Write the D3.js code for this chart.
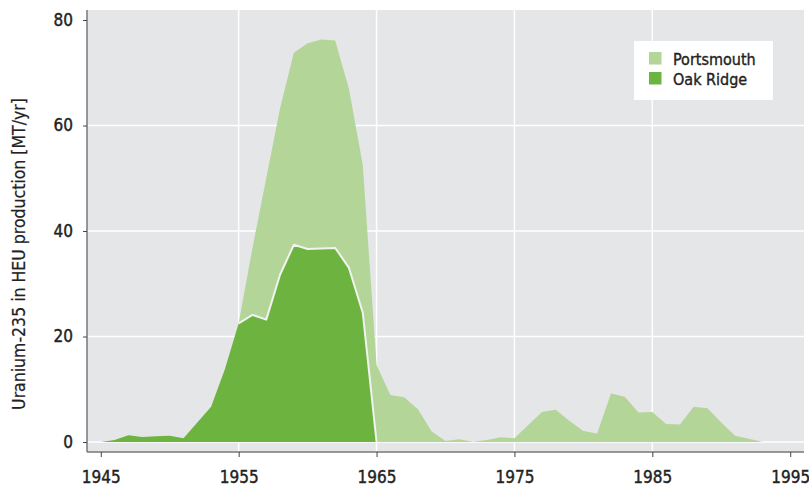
<!DOCTYPE html>
<html>
<head>
<meta charset="utf-8">
<script src="https://cdn.jsdelivr.net/npm/d3@7"></script>
<style>
  body { margin: 0; background: #fff; }
  svg text { font-family: "DejaVu Sans Condensed", "DejaVu Sans", sans-serif; font-stretch: condensed; fill: #222; }
</style>
</head>
<body>
<svg id="chart" width="809" height="489"></svg>
<script>

// values (MT/yr)
const years = [1945, 1946, 1947, 1948, 1949, 1950, 1951, 1952, 1953, 1954,
  1955, 1956, 1957, 1958, 1959, 1960, 1961, 1962, 1963, 1964,
  1965, 1966, 1967, 1968, 1969, 1970, 1971, 1972, 1973, 1974,
  1975, 1976, 1977, 1978, 1979, 1980, 1981, 1982, 1983, 1984,
  1985, 1986, 1987, 1988, 1989, 1990, 1991, 1992, 1993]

const oakRidge = [0, 0.4, 1.3, 0.95, 1.1, 1.2, 0.7, 3.7, 6.7, 13.8,
  22.5, 24.1, 23.2, 31.7, 37.4, 36.6, 36.7, 36.8, 33.0, 24.5,
  0, 0, 0, 0, 0, 0, 0, 0, 0, 0,
  0, 0, 0, 0, 0, 0, 0, 0, 0, 0,
  0, 0, 0, 0, 0, 0, 0, 0, 0]

const portsmouth = [0, 0, 0, 0, 0, 0, 0, 0, 0, 0,
  0, 12.7, 26.8, 31.5, 36.4, 39.0, 39.6, 39.3, 33.9, 28.0,
  14.6, 8.9, 8.5, 6.2, 2.0, 0.2, 0.5, 0.05, 0.4, 0.9,
  0.7, 3.2, 5.7, 6.1, 4.0, 2.1, 1.6, 9.2, 8.6, 5.6,
  5.7, 3.4, 3.3, 6.7, 6.4, 3.7, 1.2, 0.6, 0]

const seriesNames = ['Oak Ridge', 'Portsmouth']
const xTicks = [1945, 1955, 1965, 1975, 1985, 1995]
const yTicks = [0, 20, 40, 60, 80]
const yLabel = 'Uranium-235 in HEU production [MT/yr]'

const colors = { 'Oak Ridge': '#6db33f', 'Portsmouth': '#b3d598' }

const table = years.map((y, i) => ({ year: y, 'Oak Ridge': oakRidge[i], 'Portsmouth': portsmouth[i] }))

const svg = d3.select('#chart')

const plotL = 87, plotR = 804, plotT = 10, plotB = 452

let xScale = d3.scaleLinear()
.domain([1944, 1996])
.range([plotL, plotR])

let yScale = d3.scaleLinear()
.domain([0, 80])
.range([442, 20])

// plot background
svg.append('rect')
.attr('x', plotL)
.attr('y', plotT)
.attr('width', plotR - plotL)
.attr('height', plotB - plotT)
.attr('fill', '#e5e6e8')

// grid
const grid = svg.append('g')

grid.selectAll('.hgrid')
.data(yTicks.filter(t => t < 80))
.join('line')
.attr('x1', plotL)
.attr('x2', plotR)
.attr('y1', d => yScale(d))
.attr('y2', d => yScale(d))
.attr('stroke', '#fff')
.attr('stroke-width', 1.5)

grid.selectAll('.vgrid')
.data(xTicks.filter(t => t > 1945 && t < 1995))
.join('line')
.attr('x1', d => xScale(d))
.attr('x2', d => xScale(d))
.attr('y1', plotT)
.attr('y2', plotB)
.attr('stroke', '#fff')
.attr('stroke-width', 1.5)

// stacked areas
const stacked = d3.stack().keys(seriesNames)(table)

let area = d3.area()
.x(d => xScale(d.data.year))
.y0(d => yScale(d[0]))
.y1(d => yScale(d[1]))

svg.append('g')
.selectAll('path')
.data(stacked)
.join('path')
.attr('d', area)
.attr('fill', d => colors[d.key])

// white edge where the Portsmouth layer sits on Oak Ridge
let edge = d3.line()
.defined(d => d.data.year >= 1955 && d.data.year <= 1965)
.x(d => xScale(d.data.year))
.y(d => yScale(d[1]))

svg.append('path')
.datum(stacked[0])
.attr('d', edge)
.attr('fill', 'none')
.attr('stroke', '#f2f2f2')
.attr('stroke-width', 2)
.attr('stroke-linejoin', 'round')

// axes
const yAxis = svg.append('g')
.attr('transform', 'translate(' + plotL + ',0)')
.call(d3.axisLeft(yScale).tickValues(yTicks).tickSize(4).tickPadding(10))

const xAxis = svg.append('g')
.attr('transform', 'translate(0,' + plotB + ')')
.call(d3.axisBottom(xScale).tickValues(xTicks).tickFormat(d3.format('d')).tickSize(5).tickPadding(14))

yAxis.select('.domain').attr('d', 'M0,' + plotT + 'V' + plotB)
xAxis.select('.domain').attr('d', 'M' + plotL + ',0H' + plotR)

svg.selectAll('.domain').attr('stroke', '#777').attr('stroke-width', 1.5)
svg.selectAll('.tick line').attr('stroke', '#444')
svg.selectAll('.tick text')
.attr('font-size', 17)
.attr('fill', '#222')
.attr('stroke', '#222')
.attr('stroke-width', 0.4)

// y label
svg.append('text')
.attr('transform', 'translate(25,254) rotate(-90)')
.attr('text-anchor', 'middle')
.attr('font-size', 17.5)
.attr('stroke', '#222')
.attr('stroke-width', 0.2)
.text(yLabel)

// legend
const legend = svg.append('g')

legend.append('rect')
.attr('x', 634)
.attr('y', 41)
.attr('width', 139)
.attr('height', 59)
.attr('fill', '#fff')

const legendItems = ['Portsmouth', 'Oak Ridge']

legendItems.forEach((k, i) => {
  legend.append('rect')
  .attr('x', 649)
  .attr('y', 52 + i * 20)
  .attr('width', 12.5)
  .attr('height', 12.5)
  .attr('fill', colors[k])

  legend.append('text')
  .attr('x', 673)
  .attr('y', 64.5 + i * 20)
  .attr('font-size', 16)
  .attr('stroke', '#222')
  .attr('stroke-width', 0.35)
  .text(k)
})

</script>
</body>
</html>
